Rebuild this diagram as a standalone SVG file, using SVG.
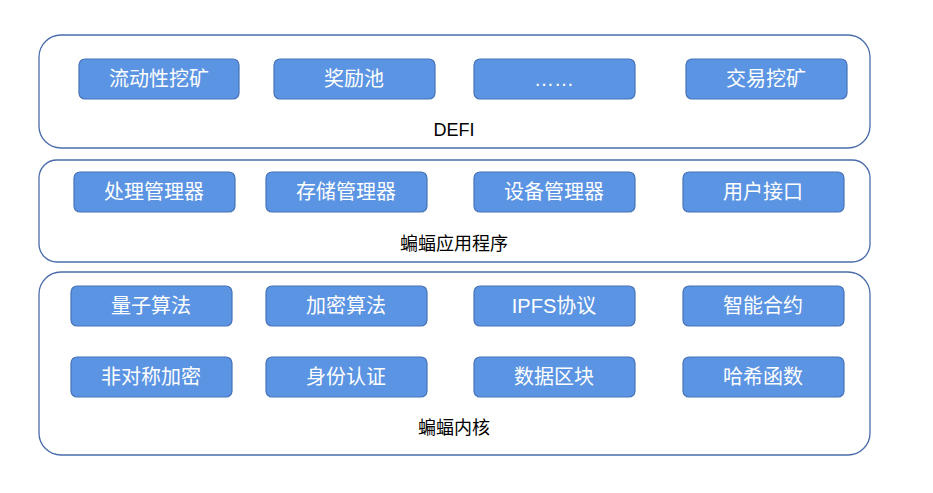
<svg xmlns="http://www.w3.org/2000/svg" width="933" height="493" viewBox="0 0 933 493">
<style>
.o{fill:#fff;stroke:#4a6cab;stroke-width:1.3}
.b{fill:#5b94e2;stroke:#4773b8;stroke-width:1.2}
.t{fill:#fff;font-family:"Liberation Sans","Noto Sans CJK SC",sans-serif;font-size:20px;text-anchor:middle;dominant-baseline:central}
.l{fill:#000;font-family:"Liberation Sans","Noto Sans CJK SC",sans-serif;font-size:18px;text-anchor:middle;dominant-baseline:central}
</style>
<rect width="933" height="493" fill="#fff"/>
<g id="defi"><rect class="o" x="39" y="35" width="831" height="113" rx="22"/><text class="l" x="454" y="130">DEFI</text></g>
<g id="app"><rect class="o" x="39" y="160" width="831" height="102" rx="18"/><text class="l" x="454" y="244">蝙蝠应用程序</text></g>
<g id="kernel"><rect class="o" x="39" y="272" width="831" height="183" rx="22"/><text class="l" x="454" y="428">蝙蝠内核</text></g>
<g id="n1"><rect class="b" x="79" y="59" width="160" height="40" rx="6"/><text class="t" x="159" y="79">流动性挖矿</text></g>
<g id="n2"><rect class="b" x="274" y="59" width="161" height="40" rx="6"/><text class="t" x="354" y="79">奖励池</text></g>
<g id="n3"><rect class="b" x="474" y="59" width="161" height="40" rx="6"/><text class="t" x="554" y="79">……</text></g>
<g id="n4"><rect class="b" x="686" y="59" width="161" height="40" rx="6"/><text class="t" x="766" y="79">交易挖矿</text></g>
<g id="n5"><rect class="b" x="74" y="172" width="161" height="40" rx="6"/><text class="t" x="154" y="192">处理管理器</text></g>
<g id="n6"><rect class="b" x="266" y="172" width="161" height="40" rx="6"/><text class="t" x="346" y="192">存储管理器</text></g>
<g id="n7"><rect class="b" x="474" y="172" width="161" height="40" rx="6"/><text class="t" x="554" y="192">设备管理器</text></g>
<g id="n8"><rect class="b" x="683" y="172" width="161" height="40" rx="6"/><text class="t" x="763" y="192">用户接口</text></g>
<g id="n9"><rect class="b" x="71" y="286" width="161" height="40" rx="6"/><text class="t" x="151" y="306">量子算法</text></g>
<g id="n10"><rect class="b" x="266" y="286" width="161" height="40" rx="6"/><text class="t" x="346" y="306">加密算法</text></g>
<g id="n11"><rect class="b" x="474" y="286" width="161" height="40" rx="6"/><text class="t" x="554" y="306">IPFS协议</text></g>
<g id="n12"><rect class="b" x="683" y="286" width="161" height="40" rx="6"/><text class="t" x="763" y="306">智能合约</text></g>
<g id="n13"><rect class="b" x="71" y="357" width="161" height="40" rx="6"/><text class="t" x="151" y="377">非对称加密</text></g>
<g id="n14"><rect class="b" x="266" y="357" width="161" height="40" rx="6"/><text class="t" x="346" y="377">身份认证</text></g>
<g id="n15"><rect class="b" x="474" y="357" width="161" height="40" rx="6"/><text class="t" x="554" y="377">数据区块</text></g>
<g id="n16"><rect class="b" x="683" y="357" width="161" height="40" rx="6"/><text class="t" x="763" y="377">哈希函数</text></g>
<g id="connectors"/>
</svg>
